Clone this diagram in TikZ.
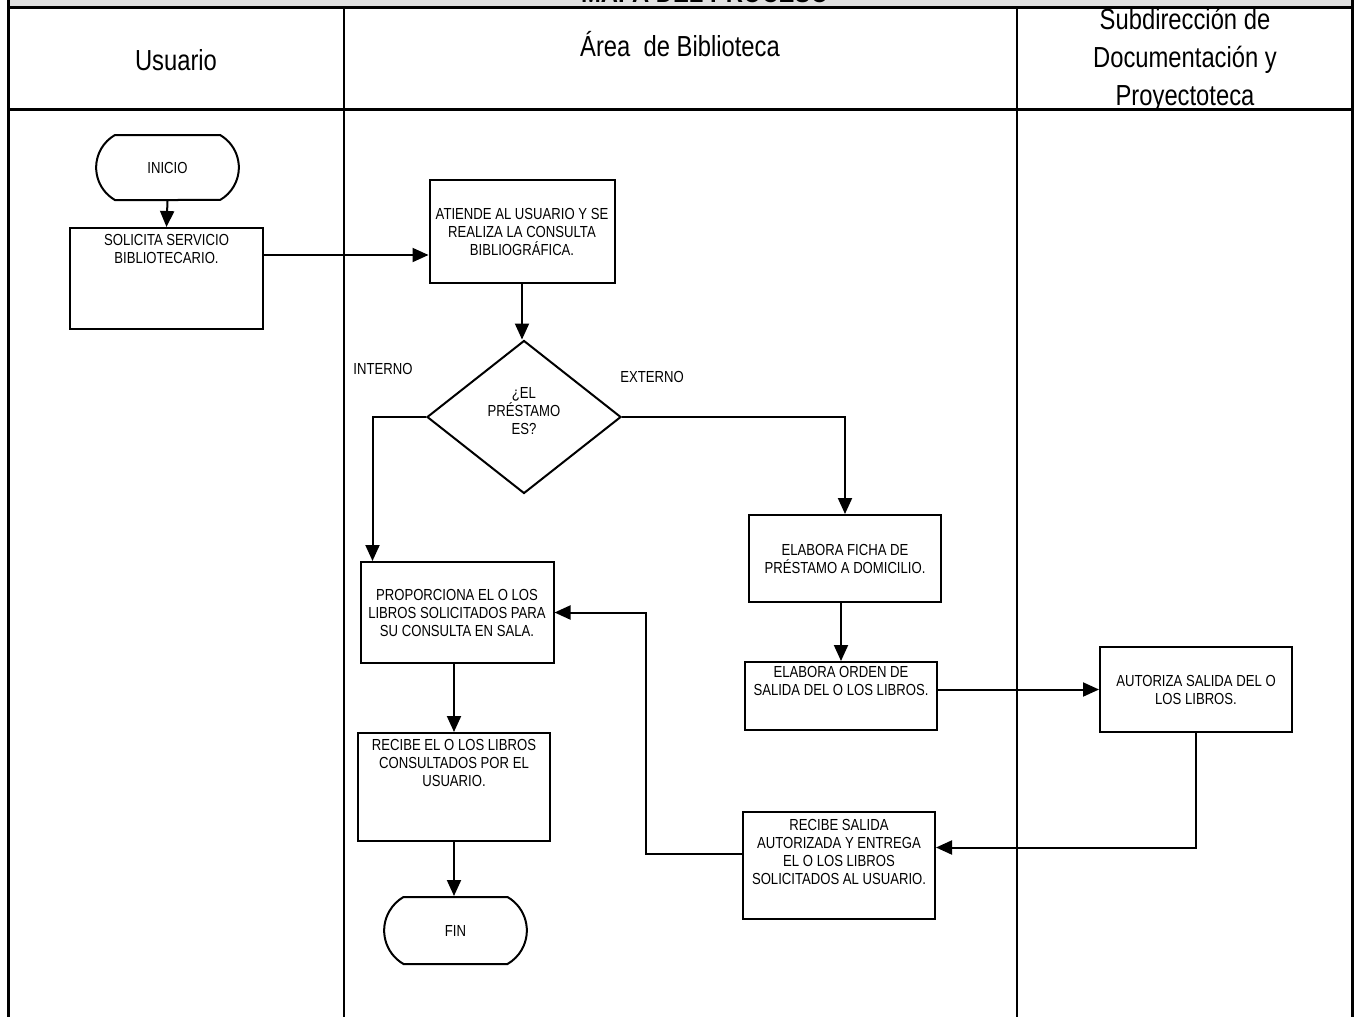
\documentclass[tikz,border=0pt]{standalone}
\usepackage{fontspec}
\setmainfont{Liberation Sans}[FakeStretch=0.82]
\usetikzlibrary{arrows.meta,shapes.geometric,shapes.misc}
\newcommand{\lift}[1]{\rule[-#1]{0pt}{#1}}

\begin{document}
\begin{tikzpicture}[x=0.5pt, y=-0.5pt,
    box/.style={draw, line width=1pt, align=center, inner sep=2pt, font=\fontsize{8}{9}\selectfont},
    term/.style={draw, line width=1pt, rounded rectangle, rounded rectangle arc length=120, font=\fontsize{8}{9}\selectfont, minimum width=78pt},
    arr/.style={line width=1pt, -{Triangle[length=8pt, width=7pt]}},
    head/.style={align=center, font=\fontsize{14.5}{19}\selectfont},
    tag/.style={font=\fontsize{8}{9}\selectfont}]
    \useasboundingbox (0,0) rectangle (1355,1017);
    \clip (0,0) rectangle (1355,1017);
    % header
    \fill[black!12] (8,0) rectangle (1352,7);
    \node[anchor=base, font=\bfseries\fontsize{14.5}{17}\selectfont] (title) at (705,3) {MAPA DEL PROCESO};
    \draw[line width=1.5pt] (8,0) -- (8,1017);
    \draw[line width=1.5pt] (1352,0) -- (1352,1017);
    \draw[line width=1.5pt] (8,7) -- (1352,7);
    \draw[line width=1.5pt] (8,109) -- (1352,109);
    \draw[line width=1pt] (344,7) -- (344,1017);
    \draw[line width=1pt] (1017,7) -- (1017,1017);
    \node[head] (usu) at (176,60) {Usuario};
    \node[head] (bib) at (680,44) {Área~ de Biblioteca};
    \node[head] (sub) at (1185,60) {Subdirección de\\Documentación y\\Proyectoteca};

    % steps
    \node[term, minimum height=32.5pt] (ini) at (167.5,167.5) {INICIO};
    \node[box, minimum width=96.5pt, minimum height=50.5pt] (sol) at (166.5,278.5) {SOLICITA SERVICIO\\BIBLIOTECARIO.\lift{30pt}};
    \node[box, minimum width=92.5pt, minimum height=51.5pt] (ate) at (522,231.5) {ATIENDE AL USUARIO Y SE\\REALIZA LA CONSULTA\\BIBLIOGRÁFICA.};
    \node[draw, line width=1pt, diamond, minimum width=97pt, minimum height=76.5pt, inner sep=0pt, align=center, font=\fontsize{8}{9}\selectfont] (dia) at (524,417) {¿EL\\PRÉSTAMO\\ES?\lift{6pt}};
    \node[tag] (int) at (383,369) {INTERNO};
    \node[tag] (ext) at (652,377) {EXTERNO};
    \node[box, minimum width=96pt, minimum height=43.5pt] (fic) at (845,558.5) {ELABORA FICHA DE\\PRÉSTAMO A DOMICILIO.};
    \node[box, minimum width=96.5pt, minimum height=50.5pt] (pro) at (457,612.5) {PROPORCIONA EL O LOS\\LIBROS SOLICITADOS PARA\\SU CONSULTA EN SALA.};
    \node[box, minimum width=96pt, minimum height=34pt] (ord) at (841,696) {ELABORA ORDEN DE\\SALIDA DEL O LOS LIBROS.\lift{15pt}};
    \node[box, minimum width=96pt, minimum height=42.5pt] (aut) at (1196,689.5) {AUTORIZA SALIDA DEL O\\LOS LIBROS.};
    \node[box, minimum width=96pt, minimum height=54pt] (rec) at (454,787) {RECIBE EL O LOS LIBROS\\CONSULTADOS POR EL\\USUARIO.\lift{24pt}};
    \node[box, minimum width=96pt, minimum height=53.5pt] (rsa) at (839,865.5) {RECIBE SALIDA\\AUTORIZADA Y ENTREGA\\EL O LOS LIBROS\\SOLICITADOS AL USUARIO.\lift{14pt}};
    \node[term, minimum height=33.5pt] (fin) at (455.5,930.5) {FIN};

    % connectors
    \draw[arr] (ini.south) -- (sol.north);
    \draw[arr] (sol.east |- 0,255) -- (ate.west |- 0,255);
    \draw[arr] (ate.south) -- (ate.south |- dia.north);
    \draw[arr] (dia.west) -| ([xshift=6.5pt]pro.north west);
    \draw[arr] (dia.east) -| (fic.north);
    \draw[arr] (fic.south -| ord.north) -- (ord.north);
    \draw[arr] (ord.east |- aut.west) -- (aut.west);
    \draw[arr] (aut.south) |- ([yshift=9pt]rsa.east);
    \draw[arr] ([yshift=6pt]rsa.west) -- ++(-96,0) |- (pro.east);
    \draw[arr] (pro.south -| rec.north) -- (rec.north);
    \draw[arr] (rec.south) -- (rec.south |- fin.north);
\end{tikzpicture}
\end{document}
